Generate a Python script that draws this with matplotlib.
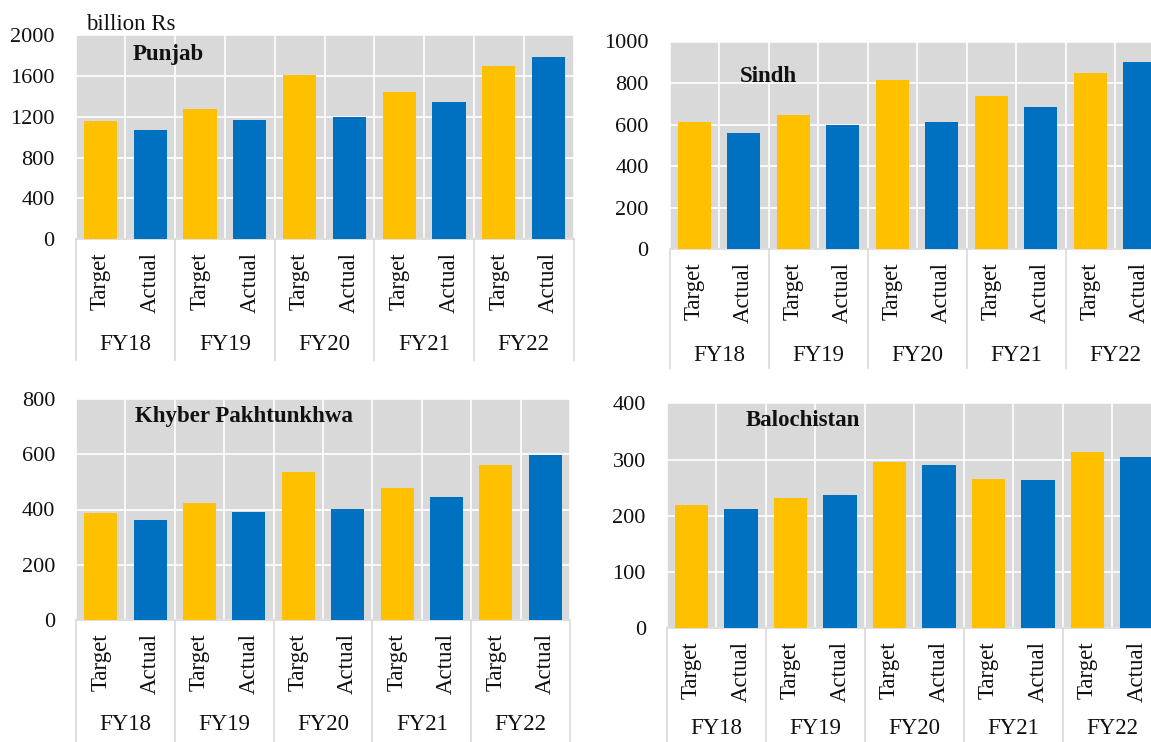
import matplotlib
matplotlib.use("Agg")
import matplotlib.pyplot as plt
import numpy as np

plt.rcParams['font.family'] = ['Liberation Serif', 'DejaVu Serif']

# Revenue targets vs actual collections by province (billion Rs)
years = ['FY18', 'FY19', 'FY20', 'FY21', 'FY22']
sub_labels = ['Target', 'Actual']

punjab_target = [1157, 1279, 1610, 1439, 1695]
punjab_actual = [1075, 1164, 1193, 1341, 1784]
sindh_target = [611, 647, 813, 740, 847]
sindh_actual = [560, 598, 613, 685, 903]
kp_target = [389, 425, 534, 477, 560]
kp_actual = [361, 390, 401, 445, 596]
balochistan_target = [219, 232, 295, 265, 314]
balochistan_actual = [212, 237, 290, 264, 305]

W, H = 1151, 742
fig = plt.figure(figsize=(W / 100, H / 100), dpi=100)

YELLOW = '#FFC000'
BLUE = '#0070C0'
PANEL_BG = '#D9D9D9'
SEP = '#D9D9D9'
INK = '#111111'


def px_axes(left, right, top, bottom):
    return fig.add_axes([left / W, 1 - bottom / H, (right - left) / W, (bottom - top) / H])


def panel(box, target, actual, ymax, step, title, title_xy, sep_len, year_off=106):
    left, right, top, bottom = box
    ax = px_axes(left, right, top, bottom)
    h_px = bottom - top
    ax.set_facecolor(PANEL_BG)

    pos_t = np.arange(len(years)) * 2
    pos_a = pos_t + 1
    ax.bar(pos_t, target, width=0.67, color=YELLOW, edgecolor='none', zorder=3)
    ax.bar(pos_a, actual, width=0.67, color=BLUE, edgecolor='none', zorder=3)

    ax.set_xlim(-0.5, 2 * len(years) - 0.5)
    ax.set_ylim(0, ymax)
    ax.set_yticks(np.arange(0, ymax + 1, step))
    ax.set_xticks(np.arange(-0.5, 2 * len(years), 1.0))
    ax.set_xticklabels([])
    ax.grid(True, color='white', linewidth=1.2, zorder=1)
    ax.set_axisbelow(True)
    ax.tick_params(axis='y', length=0, pad=15, labelsize=16, labelcolor=INK)
    ax.tick_params(axis='x', length=0)
    for s in ['top', 'right', 'left']:
        ax.spines[s].set_visible(False)
    ax.spines['bottom'].set_color(SEP)
    ax.spines['bottom'].set_linewidth(1.2)

    # two-level category axis
    for i, yr in enumerate(years):
        for j, lab in enumerate(sub_labels):
            ax.annotate(lab, xy=(2 * i + j, 0), xycoords=('data', 'axes fraction'),
                        xytext=(0, -13), textcoords='offset pixels',
                        rotation=90, ha='center', va='top', fontsize=16.5,
                        color=INK, annotation_clip=False)
        ax.annotate(yr, xy=(2 * i + 0.5, 0), xycoords=('data', 'axes fraction'),
                    xytext=(0, -year_off), textcoords='offset pixels',
                    ha='center', va='center', fontsize=16.5,
                    color=INK, annotation_clip=False)
    for k in range(len(years) + 1):
        x = 2 * k - 0.5
        ax.plot([x, x], [0, -sep_len / h_px], transform=ax.get_xaxis_transform(),
                color=SEP, linewidth=1.2, clip_on=False, zorder=2)

    fig.text(title_xy[0] / W, 1 - title_xy[1] / H, title, fontsize=16.5,
             fontweight='bold', ha='left', va='baseline', color=INK)
    return ax


panel((75.5, 573.5, 35.3, 239.0), punjab_target, punjab_actual, 2000, 400,
      'Punjab', (133, 60), 121)
panel((669.5, 1164.5, 41.5, 249.3), sindh_target, sindh_actual, 1000, 200,
      'Sindh', (740, 82), 119)
panel((76, 570, 399, 620), kp_target, kp_actual, 800, 200,
      'Khyber Pakhtunkhwa', (135, 422), 130, year_off=105)
panel((666.7, 1161.7, 403.3, 628.3), balochistan_target, balochistan_actual, 400, 100,
      'Balochistan', (746, 426), 130, year_off=100)

fig.text(86 / W, 1 - 29.5 / H, 'billion Rs', fontsize=16.5, ha='left', va='baseline',
         color=INK)

fig.savefig('out.png', dpi=100)
